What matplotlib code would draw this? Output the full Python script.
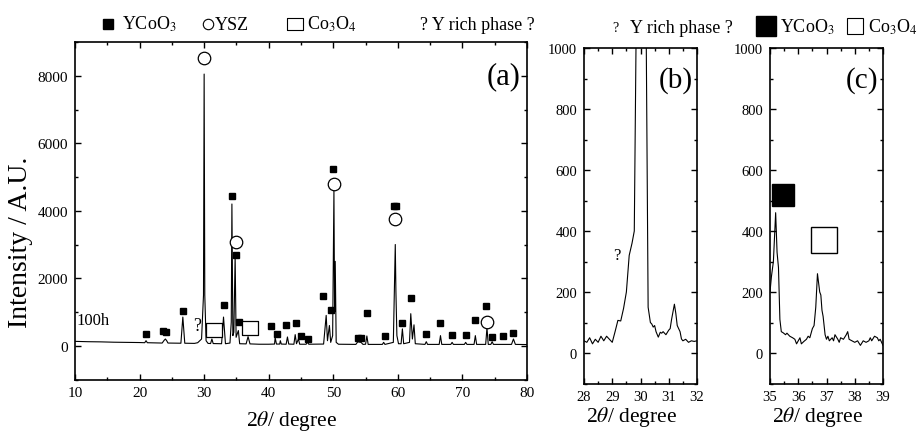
import numpy as np
import matplotlib
matplotlib.use("Agg")
import matplotlib.pyplot as plt
from matplotlib.lines import Line2D
from matplotlib.ticker import MultipleLocator

plt.rcParams['font.family'] = ['Liberation Serif', 'DejaVu Serif']
plt.rcParams['mathtext.fontset'] = 'stix'

# ---- panel (a): full pattern, 100h ----
two_theta_a = [10.0, 12.0, 14.0, 16.0, 18.0, 20.0, 20.8, 21.0, 21.2, 23.5, 23.8, 24.0, 24.2, 24.4,
               26.4, 26.7, 27.0, 28.5, 29.0, 29.6, 29.9, 30.0, 30.1, 30.3, 30.6, 31.0, 31.2, 31.4,
               32.7, 33.0, 33.3, 34.0, 34.2, 34.3, 34.45, 34.6, 34.8, 34.95, 35.3, 35.5, 36.5, 36.8,
               37.1, 38.5, 40.0, 40.9, 41.0, 41.2, 41.7, 41.8, 41.95, 42.7, 42.9, 43.1, 43.9, 44.1,
               44.3, 44.6, 44.8, 45.8, 46.0, 46.2, 48.5, 48.9, 49.1, 49.4, 49.6, 49.9, 50.1, 50.2,
               50.3, 50.45, 50.8, 53.5, 53.8, 54.3, 54.6, 55.0, 55.2, 55.4, 57.6, 57.8, 58.0, 59.3,
               59.6, 59.7, 59.85, 60.1, 60.5, 60.7, 60.9, 61.8, 62.0, 62.25, 62.5, 62.7, 64.2, 64.4,
               64.6, 66.4, 66.6, 66.8, 68.2, 68.4, 68.6, 70.3, 70.5, 70.7, 71.8, 72.0, 72.2, 73.6,
               73.8, 74.0, 74.4, 74.6, 74.8, 77.6, 77.9, 78.2, 80.0]
intensity_a = [130, 120, 115, 105, 100, 95, 90, 150, 90, 80, 160, 200, 150, 80,
               75, 850, 75, 70, 90, 200, 1500, 8050, 1500, 150, 70, 65, 200, 65,
               60, 850, 60, 80, 700, 4200, 300, 400, 2650, 250, 450, 60, 55, 270,
               55, 45, 45, 50, 240, 50, 50, 150, 50, 45, 260, 50, 45, 330,
               60, 200, 45, 45, 110, 45, 50, 900, 150, 600, 100, 300, 4600, 1000,
               2500, 100, 45, 40, 120, 100, 40, 45, 290, 40, 40, 100, 40, 100,
               3000, 1600, 300, 60, 60, 500, 60, 100, 950, 200, 620, 60, 40, 120,
               40, 40, 300, 40, 40, 100, 40, 40, 100, 40, 40, 300, 40, 40,
               530, 40, 40, 120, 40, 40, 200, 40, 35]

ycoo3_x = [21.0, 23.6, 24.1, 26.7, 33.05, 34.3, 34.9, 35.4, 40.3, 41.3, 42.7, 44.2, 45.0, 46.1,
           48.4, 49.6, 49.9, 53.75, 54.25, 55.2, 58.0, 59.45, 59.7, 60.6, 62.0, 64.4, 66.6,
           68.4, 70.5, 71.9, 73.7, 74.6, 76.3, 77.9]
ycoo3_y = [350, 450, 420, 1040, 1210, 4450, 2680, 710, 600, 340, 620, 680, 290, 200,
           1460, 1070, 5250, 240, 240, 960, 290, 4150, 4150, 670, 1420, 340, 660,
           320, 330, 750, 1180, 260, 280, 380]
ysz_x = [30.0, 34.9, 50.1, 59.6, 73.8]
ysz_y = [8520, 3080, 4790, 3770, 700]
co3o4_x = [31.5, 37.05]
co3o4_y = [460, 530]

# ---- panel (b): zoom 28-32 ----
two_theta_b = [28.0, 28.1, 28.2, 28.3, 28.4, 28.5, 28.6, 28.7, 28.8, 28.9, 29.0, 29.1, 29.2, 29.3,
               29.4, 29.5, 29.6, 29.7, 29.78, 29.86, 30.0, 30.19, 30.27, 30.35, 30.4, 30.45, 30.5,
               30.55, 30.63, 30.7, 30.75, 30.8, 30.9, 31.0, 31.05, 31.1, 31.2, 31.25, 31.3, 31.4,
               31.45, 31.5, 31.6, 31.7, 31.8, 31.9, 32.0]
intensity_b = [40, 35, 50, 30, 45, 35, 55, 40, 55, 45, 35, 70, 107, 105,
               146, 200, 320, 360, 400, 1200, 8050, 1200, 150, 100, 95, 85, 90,
               70, 52, 68, 65, 70, 60, 75, 80, 110, 160, 130, 90, 70,
               46, 40, 45, 35, 40, 38, 40]

# ---- panel (c): zoom 35-39 ----
two_theta_c = [35.0, 35.05, 35.12, 35.2, 35.25, 35.3, 35.35, 35.4, 35.47, 35.55, 35.6, 35.7, 35.8,
               35.88, 35.94, 36.0, 36.06, 36.11, 36.2, 36.29, 36.35, 36.41, 36.5, 36.56, 36.62,
               36.68, 36.72, 36.76, 36.8, 36.84, 36.88, 36.95, 37.0, 37.05, 37.1, 37.2, 37.25,
               37.3, 37.4, 37.45, 37.5, 37.6, 37.7, 37.75, 37.8, 37.9, 38.0, 38.1, 38.2, 38.3,
               38.4, 38.5, 38.55, 38.6, 38.7, 38.8, 38.85, 38.9, 39.0]
intensity_c = [200, 250, 300, 460, 330, 280, 110, 70, 66, 60, 65, 55, 50,
               45, 30, 40, 50, 30, 38, 45, 55, 50, 80, 90, 150,
               260, 230, 200, 190, 140, 120, 60, 45, 55, 40, 50, 40,
               60, 45, 35, 50, 45, 60, 70, 45, 40, 35, 40, 25, 40,
               35, 40, 50, 40, 55, 50, 40, 45, 25]

fig = plt.figure(figsize=(9.21, 4.35), dpi=100)
W, H = 921.0, 435.0


def rect(x0, y0, x1, y1):
    return [x0 / W, 1 - y1 / H, (x1 - x0) / W, (y1 - y0) / H]


def style(ax, size):
    ax.tick_params(which='both', direction='in', top=True, right=True, labelsize=size,
                   width=1.0, pad=5)
    ax.tick_params(which='major', length=4.5)
    ax.tick_params(which='minor', length=2.5)
    for s in ax.spines.values():
        s.set_linewidth(1.2)


rect_marker = [(-0.64, -0.5), (0.64, -0.5), (0.64, 0.5), (-0.64, 0.5), (-0.64, -0.5)]

ax1 = fig.add_axes(rect(75, 43, 527, 380.5))
ax1.plot(two_theta_a, intensity_a, color='black', lw=0.8)
ax1.plot(ycoo3_x, ycoo3_y, ls='none', marker='s', ms=5, color='black')
ax1.plot(ysz_x, ysz_y, ls='none', marker='o', ms=9, mfc='white', mec='black', mew=0.9)
ax1.plot(co3o4_x, co3o4_y, ls='none', marker=rect_marker, ms=12, mfc='white', mec='black', mew=0.9)
ax1.text(28.9, 600, '?', fontsize=13, ha='center', va='center')
ax1.text(10.3, 750, '100h', fontsize=12, ha='left', va='center')
ax1.text(0.985, 0.9, '(a)', transform=ax1.transAxes, fontsize=22, ha='right', va='center')
ax1.set_xlim(10, 80)
ax1.set_ylim(-1000, 9000)
ax1.xaxis.set_major_locator(MultipleLocator(10))
ax1.xaxis.set_minor_locator(MultipleLocator(5))
ax1.yaxis.set_major_locator(MultipleLocator(2000))
ax1.yaxis.set_minor_locator(MultipleLocator(1000))
ax1.set_yticks([0, 2000, 4000, 6000, 8000])
ax1.set_xlabel(r'2$\theta$/ degree', fontsize=15.5)
ax1.xaxis.set_label_coords(0.48, -0.085, transform=ax1.transAxes)
ax1.set_ylabel('Intensity / A.U.', fontsize=20)
ax1.yaxis.set_label_coords(-0.092, 0.41, transform=ax1.transAxes)
style(ax1, 11)

ax2 = fig.add_axes(rect(584, 49, 697, 384.5))
ax2.plot(two_theta_b, intensity_b, color='black', lw=0.8)
ax2.text(29.16, 322, '?', fontsize=12, ha='center', va='center')
ax2.text(0.965, 0.905, '(b)', transform=ax2.transAxes, fontsize=21, ha='right', va='center')
ax2.set_xlim(28, 32)
ax2.set_ylim(-100, 1000)
ax2.xaxis.set_major_locator(MultipleLocator(1))
ax2.xaxis.set_minor_locator(MultipleLocator(0.5))
ax2.yaxis.set_major_locator(MultipleLocator(200))
ax2.yaxis.set_minor_locator(MultipleLocator(100))
ax2.set_yticks([0, 200, 400, 600, 800, 1000])
ax2.set_xlabel(r'2$\theta$/ degree', fontsize=15.5)
ax2.xaxis.set_label_coords(0.42, -0.06, transform=ax2.transAxes)
style(ax2, 10.5)

ax3 = fig.add_axes(rect(770, 49, 883, 384.5))
ax3.plot(two_theta_c, intensity_c, color='black', lw=0.8)
ax3.plot([35.45], [518], ls='none', marker='s', ms=16.5, color='black')
ax3.plot([36.91], [372], ls='none', marker='s', ms=19, mfc='white', mec='black', mew=1.0)
ax3.text(0.96, 0.905, '(c)', transform=ax3.transAxes, fontsize=21, ha='right', va='center')
ax3.set_xlim(35, 39)
ax3.set_ylim(-100, 1000)
ax3.xaxis.set_major_locator(MultipleLocator(1))
ax3.xaxis.set_minor_locator(MultipleLocator(0.5))
ax3.yaxis.set_major_locator(MultipleLocator(200))
ax3.yaxis.set_minor_locator(MultipleLocator(100))
ax3.set_yticks([0, 200, 400, 600, 800, 1000])
ax3.set_xlabel(r'2$\theta$/ degree', fontsize=15.5)
ax3.xaxis.set_label_coords(0.42, -0.06, transform=ax3.transAxes)
style(ax3, 10.5)

# ---- key along the top ----
def fx(px):
    return px / W


def fy(py):
    return 1 - py / H


def key_marker(px, py, **kw):
    fig.add_artist(Line2D([fx(px)], [fy(py)], transform=fig.transFigure, ls='none', **kw))


key_marker(108, 25, marker='s', ms=7, color='black')
fig.text(fx(122), fy(30), 'YCoO$_3$', fontsize=13, va='baseline')
key_marker(208, 25, marker='o', ms=7.5, mfc='white', mec='black', mew=0.8)
fig.text(fx(215), fy(30), 'YSZ', fontsize=13, va='baseline')
key_marker(294.5, 25, marker=rect_marker, ms=11, mfc='white', mec='black', mew=0.8)
fig.text(fx(307), fy(30), 'Co$_3$O$_4$', fontsize=13, va='baseline')
fig.text(fx(420), fy(30), '? Y rich phase ?', fontsize=13, va='baseline')

fig.text(fx(612), fy(32), '?', fontsize=10, va='baseline')
fig.text(fx(630), fy(33), 'Y rich phase ?', fontsize=13, va='baseline')
key_marker(766, 27, marker='s', ms=15, color='black')
fig.text(fx(780), fy(33), 'YCoO$_3$', fontsize=13, va='baseline')
key_marker(855, 27, marker='s', ms=11.5, mfc='white', mec='black', mew=0.8)
fig.text(fx(868), fy(33), 'Co$_3$O$_4$', fontsize=13, va='baseline')

fig.savefig('out.png', dpi=100)
